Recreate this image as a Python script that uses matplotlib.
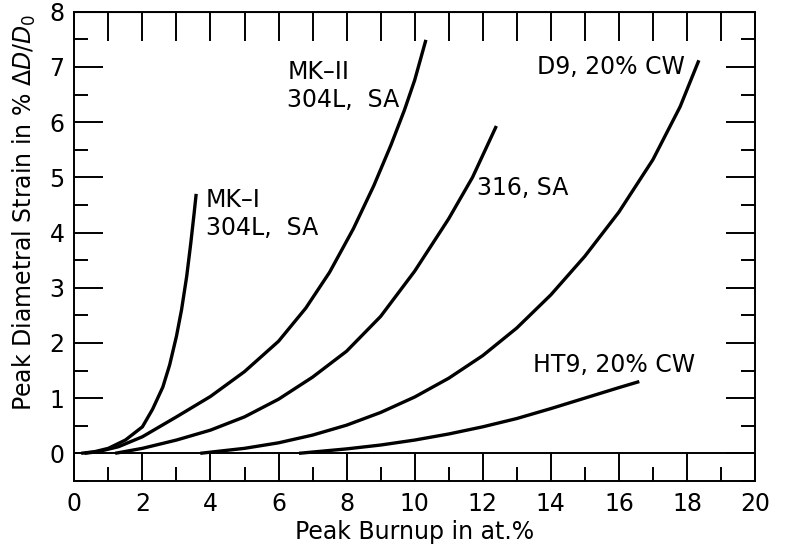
import matplotlib
matplotlib.use("Agg")
import matplotlib.pyplot as plt
from matplotlib.ticker import MultipleLocator

# Peak diametral strain vs peak burnup
mk1_x = [0.2, 0.6, 1.0, 1.5, 2.0, 2.3, 2.6, 2.8, 3.0, 3.15, 3.3, 3.42, 3.52, 3.58]
mk1_y = [0.0, 0.03, 0.09, 0.24, 0.48, 0.80, 1.20, 1.60, 2.12, 2.60, 3.20, 3.80, 4.35, 4.70]

mk2_x = [0.3, 0.7, 1.3, 2.0, 3.0, 4.0, 5.0, 6.0, 6.8, 7.5, 8.2, 8.8, 9.3, 9.7, 10.0, 10.33]
mk2_y = [0.0, 0.03, 0.12, 0.30, 0.66, 1.03, 1.48, 2.03, 2.63, 3.28, 4.07, 4.85, 5.58, 6.22, 6.76, 7.49]

ss316_x = [1.2, 2.0, 3.0, 4.0, 5.0, 6.0, 7.0, 8.0, 9.0, 10.0, 11.0, 11.7, 12.4]
ss316_y = [0.0, 0.09, 0.24, 0.42, 0.66, 0.98, 1.38, 1.85, 2.48, 3.30, 4.25, 5.00, 5.93]

d9_x = [3.7, 5.0, 6.0, 7.0, 8.0, 9.0, 10.0, 11.0, 12.0, 13.0, 14.0, 15.0, 16.0, 17.0, 17.8, 18.35]
d9_y = [0.0, 0.09, 0.19, 0.33, 0.51, 0.74, 1.02, 1.36, 1.77, 2.27, 2.87, 3.57, 4.37, 5.32, 6.28, 7.12]

ht9_x = [6.6, 8.0, 9.0, 10.0, 11.0, 12.0, 13.0, 14.0, 15.0, 16.0, 16.6]
ht9_y = [0.0, 0.08, 0.15, 0.24, 0.35, 0.48, 0.63, 0.81, 1.00, 1.19, 1.30]

fs = 17
plt.rcParams['font.family'] = 'DejaVu Sans'

fig = plt.figure(figsize=(7.85, 5.45), dpi=100)
ax = fig.add_axes([0.0947, 0.1176, 0.8671, 0.8609])

lw = 2.4
for xs, ys in [(mk1_x, mk1_y), (mk2_x, mk2_y), (ss316_x, ss316_y), (d9_x, d9_y), (ht9_x, ht9_y)]:
    ax.plot(xs, ys, color="black", lw=lw, solid_capstyle="butt", solid_joinstyle="round")

ax.axhline(0, color="black", lw=1.4)

ax.set_xlim(0, 20)
ax.set_ylim(-0.5, 8)

ax.xaxis.set_major_locator(MultipleLocator(2))
ax.xaxis.set_minor_locator(MultipleLocator(1))
ax.yaxis.set_major_locator(MultipleLocator(1))
ax.yaxis.set_minor_locator(MultipleLocator(0.5))

ax.tick_params(axis="x", which="major", direction="in", length=19.9, width=1.4,
               labelsize=fs, pad=8, top=False)
ax.tick_params(axis="x", which="minor", direction="in", length=10, width=1.4, top=False)
ax.tick_params(axis="y", which="major", direction="in", length=20.9, width=1.4,
               labelsize=fs, pad=7, right=True)
ax.tick_params(axis="y", which="minor", direction="in", length=10, width=1.4, right=True)

# top axis: a tick at every unit
top = ax.secondary_xaxis("top")
top.set_xticks(range(0, 21))
top.tick_params(direction="in", length=20.9, width=1.4, labeltop=False)

for s in ax.spines.values():
    s.set_linewidth(1.4)

# curve labels
ax.text(3.87, 4.47, "MK\u2013I", fontsize=fs)
ax.text(3.87, 3.95, "304L,  SA", fontsize=fs)
ax.text(6.26, 6.79, "MK\u2013II", fontsize=fs)
ax.text(6.26, 6.27, "304L,  SA", fontsize=fs)
ax.text(11.84, 4.68, "316, SA", fontsize=fs)
ax.text(13.6, 6.87, "D9, 20% CW", fontsize=fs)
ax.text(13.49, 1.48, "HT9, 20% CW", fontsize=fs)

fig.text(415 / 785, 1 - 539 / 545, "Peak Burnup in at.%", fontsize=fs, ha="center", va="baseline")
fig.text(24 / 785, 1 - 212 / 545, r"Peak Diametral Strain in % $\Delta D/D_0$", fontsize=fs,
         rotation=90, ha="center", va="center")

fig.savefig("out.png", dpi=100, facecolor="white")
